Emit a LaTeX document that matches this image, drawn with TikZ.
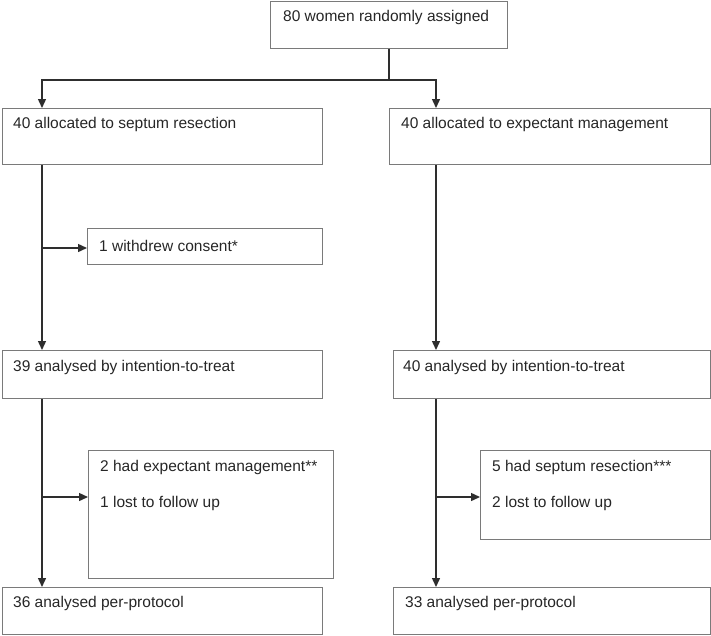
\documentclass[tikz,border=0pt]{standalone}
\usepackage{fontspec}
\setmainfont{Liberation Sans}
\usetikzlibrary{arrows.meta}
\definecolor{boxgray}{HTML}{7A7A7A}
\definecolor{linegray}{HTML}{2E2E2E}
\begin{document}
\begin{tikzpicture}[x=1pt,y=-1pt,
  box/.style={draw=boxgray, line width=1.2pt, anchor=north west, inner sep=0pt},
  txt/.style={anchor=base west, inner sep=0pt, font=\fontsize{15.5}{18}\selectfont, text=black!85},
  conn/.style={draw=linegray, line width=1.4pt},
  arr/.style={conn, -{Triangle[length=9pt,width=8pt]}}]
\useasboundingbox (0,0) rectangle (711,635);
% boxes
\node[box, minimum width=237pt, minimum height=47pt] (top) at (270,0.6) {};
\node[box, minimum width=320pt, minimum height=56pt] (allocL) at (2,108) {};
\node[box, minimum width=321pt, minimum height=56pt] (allocR) at (389,108) {};
\node[box, minimum width=235pt, minimum height=36pt] (withd) at (87,228) {};
\node[box, minimum width=320pt, minimum height=48pt] (ittL) at (2,350) {};
\node[box, minimum width=317pt, minimum height=48pt] (ittR) at (393,350) {};
\node[box, minimum width=245pt, minimum height=128pt] (devL) at (88,450) {};
\node[box, minimum width=230pt, minimum height=89pt] (devR) at (480,450) {};
\node[box, minimum width=320pt, minimum height=47pt] (ppL) at (2,587) {};
\node[box, minimum width=317pt, minimum height=47pt] (ppR) at (393,587) {};
% texts
\node[txt] (ttop) at (283,21) {80 women randomly assigned};
\node[txt] (tallocL) at (13,128) {40 allocated to septum resection};
\node[txt] (tallocR) at (401,128) {40 allocated to expectant management};
\node[txt] (twithd) at (99,251) {1 withdrew consent*};
\node[txt] (tittL) at (13,371) {39 analysed by intention-to-treat};
\node[txt] (tittR) at (403,371) {40 analysed by intention-to-treat};
\node[txt] (tdevL1) at (100,471) {2 had expectant management**};
\node[txt] (tdevL2) at (100,507) {1 lost to follow up};
\node[txt] (tdevR1) at (492,471) {5 had septum resection***};
\node[txt] (tdevR2) at (492,507) {2 lost to follow up};
\node[txt] (tppL) at (13,607) {36 analysed per-protocol};
\node[txt] (tppR) at (405,607) {33 analysed per-protocol};
% column coordinates
\coordinate (colL) at (42,0);
\coordinate (colR) at (436,0);
\coordinate (split) at (389,80);
\coordinate (b1) at (42,248);
\coordinate (b2) at (42,497);
\coordinate (b3) at (436,497);
% connectors
\draw[conn] (top.south -| split) -- (split);
\draw[arr] (split) -| (allocL.north -| colL);
\draw[arr] (split) -| (allocR.north -| colR);
\draw[arr] (allocL.south -| colL) -- (ittL.north -| colL);
\draw[arr] (b1) -- (withd.west |- b1);
\draw[arr] (allocR.south -| colR) -- (ittR.north -| colR);
\draw[arr] (ittL.south -| colL) -- (ppL.north -| colL);
\draw[arr] (b2) -- (devL.west |- b2);
\draw[arr] (ittR.south -| colR) -- (ppR.north -| colR);
\draw[arr] (b3) -- (devR.west |- b3);
\end{tikzpicture}
\end{document}
